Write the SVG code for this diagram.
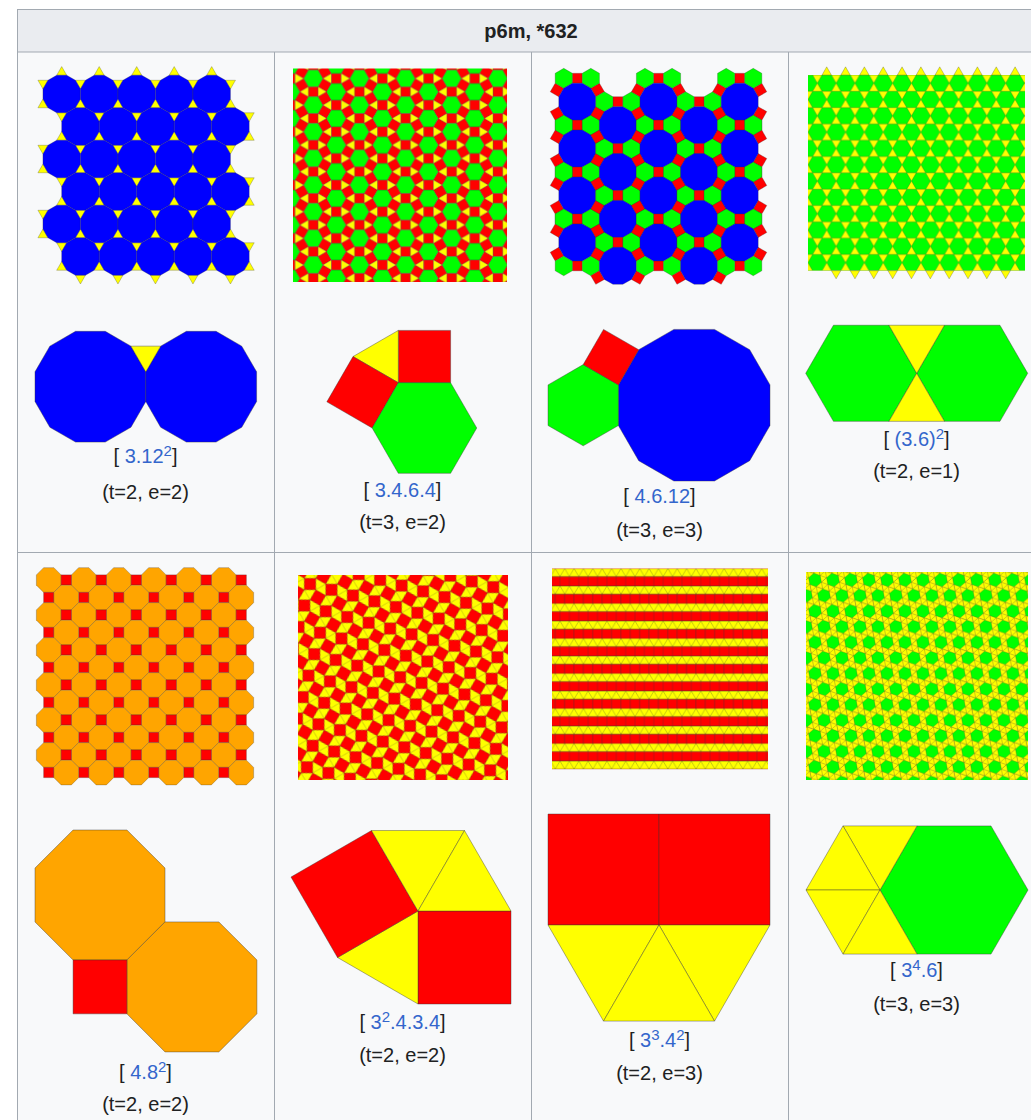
<svg xmlns="http://www.w3.org/2000/svg" width="1031" height="1120" viewBox="0 0 1031 1120">
<style>
.t{font-family:"Liberation Sans",Arial,sans-serif;font-size:20px;fill:#202122;text-anchor:middle}
.h{font-weight:bold}
.l{fill:#3366cc}
.sh{stroke:#333;stroke-opacity:.55;stroke-width:.5;stroke-linejoin:round}
.vf{stroke:#333;stroke-opacity:.5;stroke-width:.8;stroke-linejoin:round}
.B{fill:#0000ff}.Y{fill:#ffff00}.R{fill:#ff0000}.G{fill:#00ff00}.O{fill:#ffa500}
.ln{stroke:#333;stroke-opacity:.55;stroke-width:.5;fill:none}
</style>
<defs>
<polygon id="d12a" class="B sh" points="18.75,5.02 13.73,13.73 5.02,18.75 -5.02,18.75 -13.73,13.73 -18.75,5.02 -18.75,-5.02 -13.73,-13.73 -5.02,-18.75 5.02,-18.75 13.73,-13.73 18.75,-5.02"/>
<polygon id="tu1" class="Y sh" points="0,-5.8 5.02,2.9 -5.02,2.9"/>
<polygon id="td1" class="Y sh" points="0,5.8 5.02,-2.9 -5.02,-2.9"/>
<g id="tu6"><use href="#tu1" x="0"/><use href="#tu1" x="37.5"/><use href="#tu1" x="75"/><use href="#tu1" x="112.5"/><use href="#tu1" x="150"/><use href="#tu1" x="187.5"/></g>
<g id="tu5"><use href="#tu1" x="0"/><use href="#tu1" x="37.5"/><use href="#tu1" x="75"/><use href="#tu1" x="112.5"/><use href="#tu1" x="150"/></g>
<g id="td6"><use href="#td1" x="0"/><use href="#td1" x="37.5"/><use href="#td1" x="75"/><use href="#td1" x="112.5"/><use href="#td1" x="150"/><use href="#td1" x="187.5"/></g>
<g id="td5"><use href="#td1" x="0"/><use href="#td1" x="37.5"/><use href="#td1" x="75"/><use href="#td1" x="112.5"/><use href="#td1" x="150"/></g>
<g id="d12r"><use href="#d12a" x="0"/><use href="#d12a" x="37.5"/><use href="#d12a" x="75"/><use href="#d12a" x="112.5"/><use href="#d12a" x="150"/></g>

<g id="m3464">
<polygon class="G sh" points="9.75,0 4.875,8.444 -4.875,8.444 -9.75,0 -4.875,-8.444 4.875,-8.444"/>
<polygon class="R sh" points="4.875,8.444 4.875,18.194 -4.875,18.194 -4.875,8.444"/>
<polygon class="R sh" points="9.75,0 4.875,8.444 13.319,13.319 18.194,4.875"/>
<polygon class="R sh" points="9.75,0 4.875,-8.444 13.319,-13.319 18.194,-4.875"/>
<polygon class="Y sh" points="9.75,0 18.194,4.875 18.194,-4.875"/>
<polygon class="Y sh" points="4.875,8.444 4.875,18.194 13.319,13.319"/>
</g>
<pattern id="p3464" patternUnits="userSpaceOnUse" x="313.3" y="78.5" width="46.14" height="26.64">
<use href="#m3464" x="0" y="0"/><use href="#m3464" x="46.14" y="0"/><use href="#m3464" x="0" y="26.64"/><use href="#m3464" x="46.14" y="26.64"/><use href="#m3464" x="23.07" y="13.32"/><use href="#m3464" x="23.07" y="-13.32"/>
</pattern>

<polygon id="h6a" class="G sh" points="8.583,4.955 0,9.911 -8.583,4.955 -8.583,-4.955 0,-9.911 8.583,-4.955"/>
<g id="ring12top">
<polygon class="R sh" points="-4.955,-18.494 4.955,-18.494 4.955,-28.405 -4.955,-28.405"/>
<polygon class="R sh" points="18.494,4.955 13.539,13.539 22.122,18.494 27.077,9.911"/>
<polygon class="R sh" points="18.494,-4.955 13.539,-13.539 22.122,-18.494 27.077,-9.911"/>
<polygon class="R sh" points="-18.494,4.955 -13.539,13.539 -22.122,18.494 -27.077,9.911"/>
<polygon class="R sh" points="-18.494,-4.955 -13.539,-13.539 -22.122,-18.494 -27.077,-9.911"/>
<use href="#h6a" x="13.539" y="-23.45"/>
<use href="#h6a" x="-13.539" y="-23.45"/>
</g>
<g id="ring12bot">
<polygon class="R sh" points="-4.955,18.494 4.955,18.494 4.955,28.405 -4.955,28.405"/>
<use href="#h6a" x="13.539" y="23.45"/>
<use href="#h6a" x="-13.539" y="23.45"/>
</g>
<polygon id="d12c" class="B sh" points="18.494,4.955 13.539,13.539 4.955,18.494 -4.955,18.494 -13.539,13.539 -18.494,4.955 -18.494,-4.955 -13.539,-13.539 -4.955,-18.494 4.955,-18.494 13.539,-13.539 18.494,-4.955"/>
<g id="u12"><use href="#ring12top"/><use href="#ring12bot"/><use href="#d12c"/></g>
<g id="u12b"><use href="#ring12top"/><use href="#d12c"/></g>
<g id="c12e"><use href="#u12" y="0"/><use href="#u12" y="46.9"/><use href="#u12" y="93.8"/><use href="#u12" y="140.7"/></g>
<g id="c12o"><use href="#u12" y="0"/><use href="#u12" y="46.9"/><use href="#u12" y="93.8"/><use href="#u12b" y="140.7"/></g>

<polygon id="h36" class="G sh" points="9.42,0 4.71,8.158 -4.71,8.158 -9.42,0 -4.71,-8.158 4.71,-8.158"/>
<pattern id="p36" patternUnits="userSpaceOnUse" x="826.7" y="83.16" width="18.84" height="32.63">
<rect width="18.84" height="32.63" class="Y"/>
<use href="#h36" x="0" y="0"/><use href="#h36" x="18.84" y="0"/><use href="#h36" x="9.42" y="16.315"/><use href="#h36" x="0" y="32.63"/><use href="#h36" x="18.84" y="32.63"/>
</pattern>
<polygon id="tu36" class="Y sh" points="0,-8.158 4.71,0 -4.71,0"/>
<polygon id="td36" class="Y sh" points="0,8.158 4.71,0 -4.71,0"/>

<polygon id="o8" class="O sh" points="12.375,5.125 5.125,12.375 -5.125,12.375 -12.375,5.125 -12.375,-5.125 -5.125,-12.375 5.125,-12.375 12.375,-5.125"/>
<rect id="s8" class="R sh" x="-5.125" y="-5.125" width="10.25" height="10.25"/>
<g id="r8e"><use href="#o8" x="0"/><use href="#o8" x="35"/><use href="#o8" x="70"/><use href="#o8" x="105"/><use href="#o8" x="140"/><use href="#o8" x="175"/>
<use href="#s8" x="17.5"/><use href="#s8" x="52.5"/><use href="#s8" x="87.5"/><use href="#s8" x="122.5"/><use href="#s8" x="157.5"/><use href="#s8" x="192.5"/></g>
<g id="r8o"><use href="#s8" x="0"/><use href="#s8" x="35"/><use href="#s8" x="70"/><use href="#s8" x="105"/><use href="#s8" x="140"/><use href="#s8" x="175"/>
<use href="#o8" x="17.5"/><use href="#o8" x="52.5"/><use href="#o8" x="87.5"/><use href="#o8" x="122.5"/><use href="#o8" x="157.5"/><use href="#o8" x="192.5"/></g>

<polygon id="sqA" class="R sh" points="4.066,7.042 -7.042,4.066 -4.066,-7.042 7.042,-4.066"/>
<polygon id="sqB" class="R sh" points="7.042,4.066 -4.066,7.042 -7.042,-4.066 4.066,-7.042"/>
<pattern id="p3434" patternUnits="userSpaceOnUse" x="300" y="578" width="22.217" height="22.217" patternTransform="rotate(15 403 678)">
<rect width="22.217" height="22.217" class="Y"/>
<use href="#sqA" x="0" y="0"/><use href="#sqA" x="22.217" y="0"/><use href="#sqA" x="0" y="22.217"/><use href="#sqA" x="22.217" y="22.217"/><use href="#sqB" x="11.108" y="11.108"/>
<path class="ln" d="M7.042,-4.066L15.174,4.066M7.042,18.151L15.174,26.283M4.066,7.042L-4.066,15.174M26.283,7.042L18.151,15.174"/>
</pattern>

<pattern id="p33344" patternUnits="userSpaceOnUse" x="560" y="568.5" width="9.38" height="35.006">
<rect width="9.38" height="35.006" class="Y"/>
<rect class="R sh" x="0" y="8.123" width="9.38" height="9.38"/>
<rect class="R sh" x="-4.69" y="25.626" width="9.38" height="9.38"/>
<rect class="R sh" x="4.69" y="25.626" width="9.38" height="9.38"/>
<path class="ln" d="M4.69,0L0,8.123M4.69,0L9.38,8.123M0,17.503L4.69,25.626M9.38,17.503L4.69,25.626M0,0H9.38M0,8.123H9.38M0,17.503H9.38M0,25.626H9.38"/>
</pattern>

<g id="m3336">
<polygon class="Y sh" points="5.140,-4.452 11.566,-2.226 6.425,2.226 7.711,8.903 1.285,6.678 -3.855,11.129 -5.140,4.452 -11.566,2.226 -6.425,-2.226 -7.711,-8.903 -1.285,-6.678 3.855,-11.129"/>
<polygon class="G sh" points="5.140,-4.452 6.425,2.226 1.285,6.678 -5.140,4.452 -6.425,-2.226 -1.285,-6.678"/>
</g>
<pattern id="p3336" patternUnits="userSpaceOnUse" x="815" y="580" width="17.99" height="31.16">
<rect width="17.99" height="31.16" class="Y"/>
<use href="#m3336" x="0" y="0"/><use href="#m3336" x="17.99" y="0"/><use href="#m3336" x="0" y="31.16"/><use href="#m3336" x="17.99" y="31.16"/><use href="#m3336" x="8.995" y="15.58"/><use href="#m3336" x="8.995" y="-15.58"/><use href="#m3336" x="8.995" y="46.74"/><use href="#m3336" x="-8.995" y="15.58"/><use href="#m3336" x="26.985" y="15.58"/>
</pattern>
</defs>

<g id="table">
<rect x="17.5" y="9.5" width="1040" height="1120" fill="#f8f9fa" stroke="#a2a9b1"/>
<rect x="17.5" y="9.5" width="1040" height="42.5" fill="#eaecf0" stroke="#a2a9b1"/>
<path d="M274.5,52V1120M531.5,52V1120M788.5,52V1120M17,552.5H1031" stroke="#a2a9b1" fill="none"/>
<text class="t h" x="531" y="38">p6m, *632</text>
</g>

<g id="tiling-3-12-12">
<use href="#tu5" x="61.7" y="72.35"/>
<use href="#tu6" x="42.95" y="104.85"/>
<use href="#tu6" x="61.7" y="137.35"/>
<use href="#tu6" x="42.95" y="169.85"/>
<use href="#tu6" x="61.7" y="202.35"/>
<use href="#tu6" x="42.95" y="234.85"/>
<use href="#tu6" x="61.7" y="267.35"/>
<use href="#td6" x="42.95" y="83.17"/>
<use href="#td6" x="61.7" y="115.67"/>
<use href="#td6" x="42.95" y="148.17"/>
<use href="#td6" x="61.7" y="180.67"/>
<use href="#td6" x="42.95" y="213.17"/>
<use href="#td6" x="61.7" y="245.67"/>
<use href="#td5" x="80.45" y="278.17"/>
<use href="#d12r" x="61.7" y="94"/>
<use href="#d12r" x="80.45" y="126.5"/>
<use href="#d12r" x="61.7" y="159"/>
<use href="#d12r" x="80.45" y="191.5"/>
<use href="#d12r" x="61.7" y="224"/>
<use href="#d12r" x="80.45" y="256.5"/>
</g>
<g id="vf-3-12-12" class="vf">
<polygon class="B" points="145.8,401.55 130.96,427.26 105.25,442.1 75.55,442.1 49.84,427.26 35,401.55 35,371.85 49.84,346.14 75.55,331.3 105.25,331.3 130.96,346.14 145.8,371.85"/>
<polygon class="B" points="256.6,401.55 241.76,427.26 216.05,442.1 186.35,442.1 160.64,427.26 145.8,401.55 145.8,371.85 160.64,346.14 186.35,331.3 216.05,331.3 241.76,346.14 256.6,371.85"/>
<polygon class="Y" points="145.8,371.85 130.96,346.14 160.64,346.14"/>
</g>
<g id="cap1">
<text class="t" x="145.5" y="463">[ <tspan class="l">3.12<tspan font-size="15" dy="-7">2</tspan></tspan><tspan dy="7">]</tspan></text>
<text class="t" x="145.5" y="499">(t=2, e=2)</text>
</g>

<g id="tiling-3-4-6-4"><rect x="293" y="68.5" width="214" height="213.5" fill="url(#p3464)"/></g>
<g id="vf-3-4-6-4" class="vf">
<polygon class="R" points="398.3,330.4 450.6,330.4 450.6,382.7 398.3,382.7"/>
<polygon class="Y" points="398.3,382.7 398.3,330.4 353,356.55"/>
<polygon class="R" points="398.3,382.7 353,356.55 326.85,401.84 372.15,428"/>
<polygon class="G" points="398.3,382.7 450.6,382.7 476.75,428 450.6,473.3 398.3,473.3 372.15,428"/>
</g>
<g id="cap2">
<text class="t" x="402.5" y="497">[ <tspan class="l">3.4.6.4</tspan>]</text>
<text class="t" x="402.5" y="529">(t=3, e=2)</text>
</g>

<g id="tiling-4-6-12">
<use href="#c12e" x="577.3" y="101.7"/>
<use href="#c12o" x="617.9" y="125.15"/>
<use href="#c12e" x="658.5" y="101.7"/>
<use href="#c12o" x="699.1" y="125.15"/>
<use href="#c12e" x="739.7" y="101.7"/>
</g>
<g id="vf-4-6-12" class="vf">
<polygon class="B" points="770,425.51 749.69,460.69 714.51,481 673.89,481 638.71,460.69 618.4,425.51 618.4,384.89 638.71,349.71 673.89,329.4 714.51,329.4 749.69,349.71 770,384.89"/>
<polygon class="G" points="618.4,384.89 618.4,425.51 583.22,445.82 548.04,425.51 548.04,384.89 583.22,364.58"/>
<polygon class="R" points="618.4,384.89 638.71,349.71 603.53,329.4 583.22,364.58"/>
</g>
<g id="cap3">
<text class="t" x="659.5" y="503">[ <tspan class="l">4.6.12</tspan>]</text>
<text class="t" x="659.5" y="537">(t=3, e=3)</text>
</g>

<g id="tiling-3-6-3-6">
<rect x="808" y="75" width="217" height="195.7" fill="url(#p36)"/>
<use href="#tu36" x="826.7" y="75"/><use href="#tu36" x="845.54" y="75"/><use href="#tu36" x="864.38" y="75"/><use href="#tu36" x="883.22" y="75"/><use href="#tu36" x="902.06" y="75"/><use href="#tu36" x="920.9" y="75"/><use href="#tu36" x="939.74" y="75"/><use href="#tu36" x="958.58" y="75"/><use href="#tu36" x="977.42" y="75"/><use href="#tu36" x="996.26" y="75"/><use href="#tu36" x="1015.1" y="75"/>
<use href="#td36" x="836.12" y="270.7"/><use href="#td36" x="854.96" y="270.7"/><use href="#td36" x="873.8" y="270.7"/><use href="#td36" x="892.64" y="270.7"/><use href="#td36" x="911.48" y="270.7"/><use href="#td36" x="930.32" y="270.7"/><use href="#td36" x="949.16" y="270.7"/><use href="#td36" x="968" y="270.7"/><use href="#td36" x="986.84" y="270.7"/><use href="#td36" x="1005.68" y="270.7"/>
</g>
<g id="vf-3-6-3-6" class="vf">
<polygon class="G" points="916.7,373.3 888.95,421.36 833.45,421.36 805.7,373.3 833.45,325.24 888.95,325.24"/>
<polygon class="G" points="1027.7,373.3 999.95,421.36 944.45,421.36 916.7,373.3 944.45,325.24 999.95,325.24"/>
<polygon class="Y" points="888.95,325.24 944.45,325.24 916.7,373.3"/>
<polygon class="Y" points="916.7,373.3 888.95,421.36 944.45,421.36"/>
</g>
<g id="cap4">
<text class="t" x="916.5" y="446">[ <tspan class="l">(3.6)<tspan font-size="15" dy="-7">2</tspan></tspan><tspan dy="7">]</tspan></text>
<text class="t" x="916.5" y="478">(t=2, e=1)</text>
</g>

<g id="tiling-4-8-8">
<use href="#r8e" x="48.75" y="580"/><use href="#r8o" x="48.75" y="597.5"/>
<use href="#r8e" x="48.75" y="615"/><use href="#r8o" x="48.75" y="632.5"/>
<use href="#r8e" x="48.75" y="650"/><use href="#r8o" x="48.75" y="667.5"/>
<use href="#r8e" x="48.75" y="685"/><use href="#r8o" x="48.75" y="702.5"/>
<use href="#r8e" x="48.75" y="720"/><use href="#r8o" x="48.75" y="737.5"/>
<use href="#r8e" x="48.75" y="755"/><use href="#r8o" x="48.75" y="772.5"/>
</g>
<g id="vf-4-8-8" class="vf">
<polygon class="O" points="165,921.92 126.92,960 73.08,960 35,921.92 35,868.08 73.08,830 126.92,830 165,868.08"/>
<polygon class="O" points="256.92,1013.84 218.84,1051.92 165,1051.92 126.92,1013.84 126.92,960 165,921.92 218.84,921.92 256.92,960"/>
<polygon class="R" points="73.08,960 126.92,960 126.92,1013.84 73.08,1013.84"/>
</g>
<g id="cap5">
<text class="t" x="145.5" y="1079">[ <tspan class="l">4.8<tspan font-size="15" dy="-7">2</tspan></tspan><tspan dy="7">]</tspan></text>
<text class="t" x="145.5" y="1111">(t=2, e=2)</text>
</g>

<g id="tiling-3-3-4-3-4"><rect x="298" y="575" width="210" height="205" fill="url(#p3434)"/></g>
<g id="vf-3-3-4-3-4" class="vf">
<polygon class="R" points="418,911 511,911 511,1004 418,1004"/>
<polygon class="Y" points="418,911 418,1004 337.5,957.5"/>
<polygon class="R" points="418,911 337.5,957.5 291,877 371.5,830.5"/>
<polygon class="Y" points="418,911 371.5,830.5 464.5,830.5"/>
<polygon class="Y" points="418,911 464.5,830.5 511,911"/>
</g>
<g id="cap6">
<text class="t" x="402.5" y="1029">[ <tspan class="l">3<tspan font-size="15" dy="-7">2</tspan><tspan dy="7">.4.3.4</tspan></tspan>]</text>
<text class="t" x="402.5" y="1062">(t=2, e=2)</text>
</g>

<g id="tiling-3-3-3-4-4"><rect x="552" y="568.5" width="216" height="200.7" fill="url(#p33344)"/></g>
<g id="vf-3-3-3-4-4" class="vf">
<polygon class="R" points="548,814 659,814 659,925 548,925"/>
<polygon class="R" points="659,814 770,814 770,925 659,925"/>
<polygon class="Y" points="548,925 659,925 603.5,1021.1"/>
<polygon class="Y" points="659,925 770,925 714.5,1021.1"/>
<polygon class="Y" points="659,925 603.5,1021.1 714.5,1021.1"/>
</g>
<g id="cap7">
<text class="t" x="659.5" y="1047">[ <tspan class="l">3<tspan font-size="15" dy="-7">3</tspan><tspan dy="7">.4</tspan><tspan font-size="15" dy="-7">2</tspan></tspan><tspan dy="7">]</tspan></text>
<text class="t" x="659.5" y="1080">(t=2, e=3)</text>
</g>

<g id="tiling-3-3-3-3-6"><rect x="806" y="572" width="222" height="208" fill="url(#p3336)"/></g>
<g id="vf-3-3-3-3-6" class="vf">
<polygon class="G" points="880,890 917,825.9 991,825.9 1028,890 991,954.1 917,954.1"/>
<polygon class="Y" points="880,890 843,825.9 917,825.9"/>
<polygon class="Y" points="880,890 843,825.9 806,890"/>
<polygon class="Y" points="880,890 806,890 843,954.1"/>
<polygon class="Y" points="880,890 843,954.1 917,954.1"/>
</g>
<g id="cap8">
<text class="t" x="916.5" y="977">[ <tspan class="l">3<tspan font-size="15" dy="-7">4</tspan><tspan dy="7">.6</tspan></tspan>]</text>
<text class="t" x="916.5" y="1011">(t=3, e=3)</text>
</g>
</svg>
